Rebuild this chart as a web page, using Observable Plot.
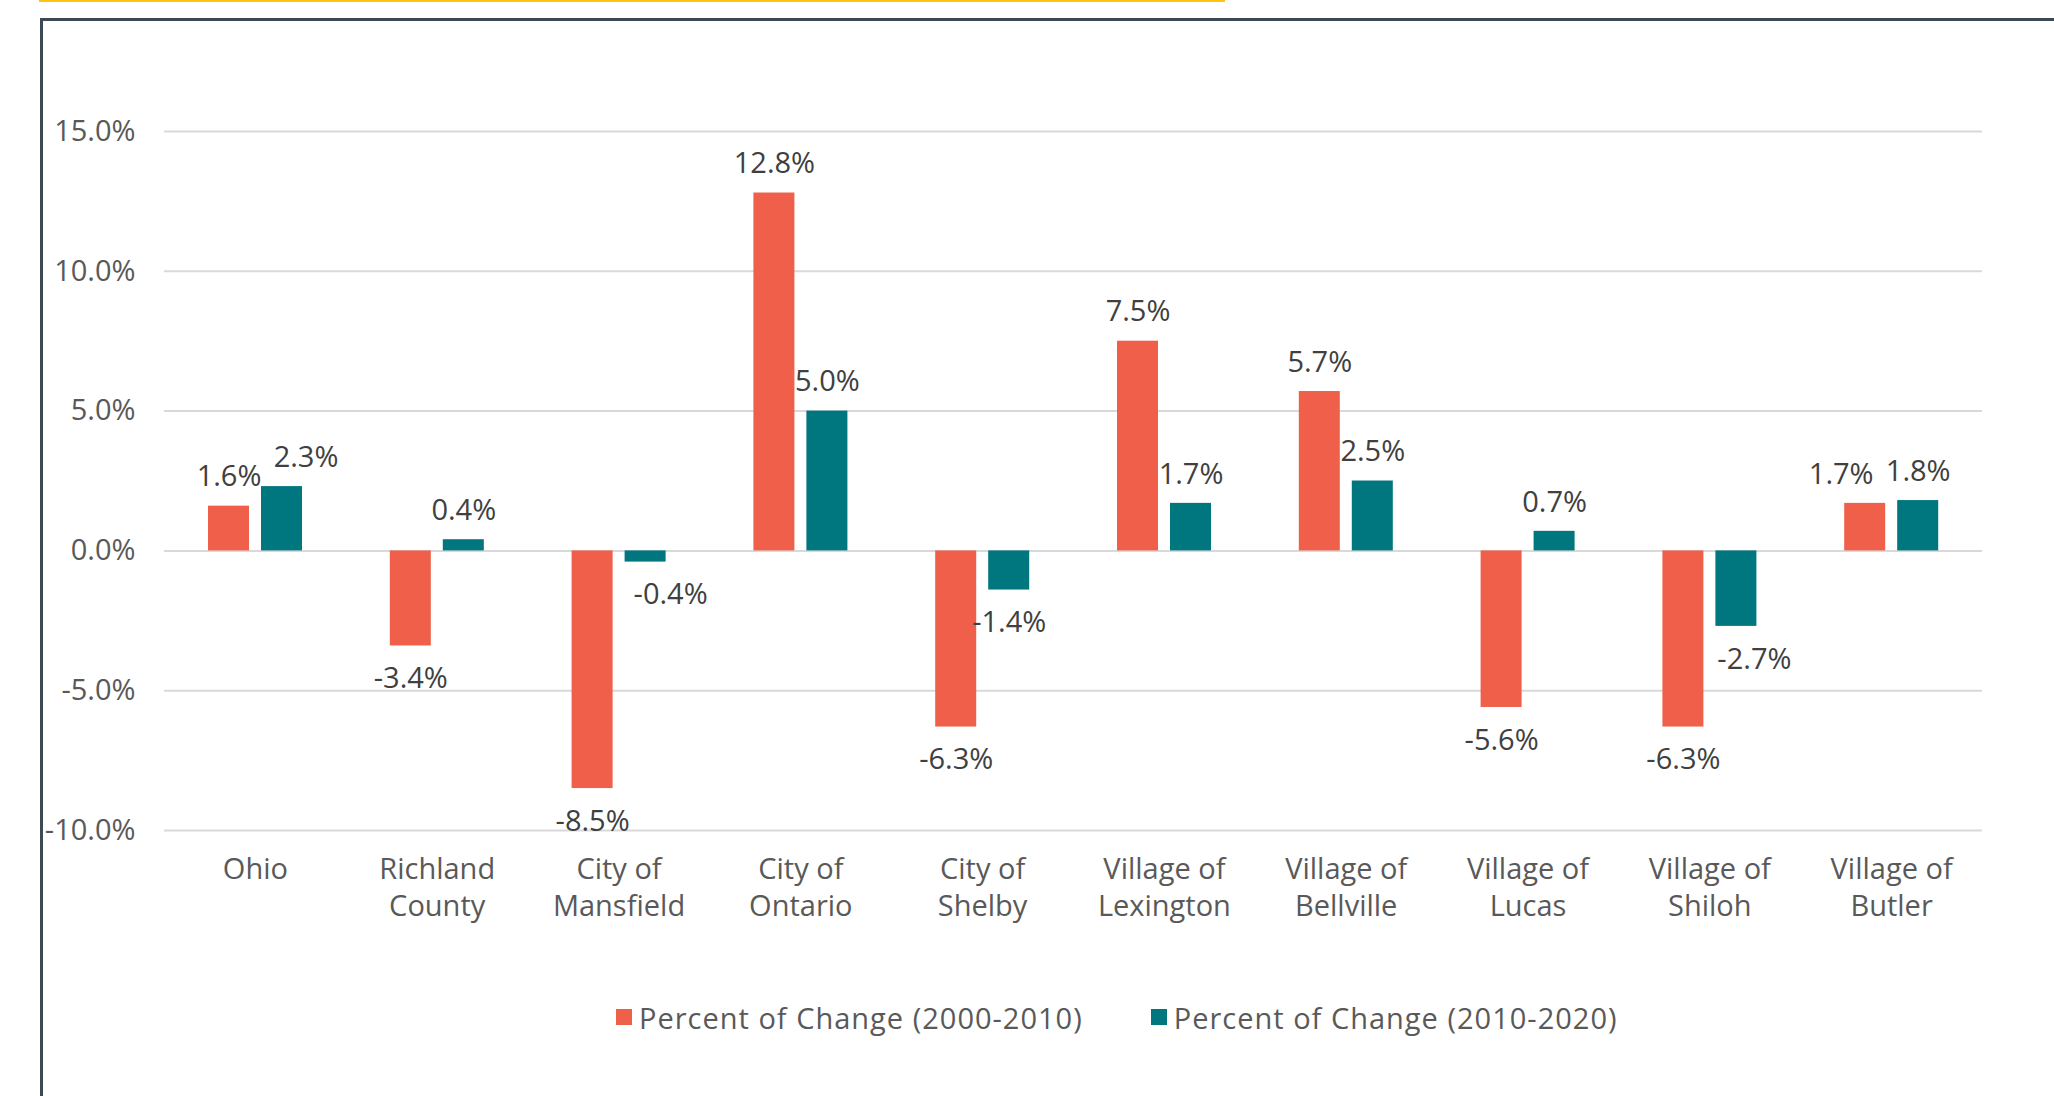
<!DOCTYPE html>
<html>
<head>
<meta charset="utf-8">
<script src="https://cdn.jsdelivr.net/npm/d3@7"></script>
<script src="https://cdn.jsdelivr.net/npm/@observablehq/plot@0.6"></script>
<style>
  html, body { margin: 0; padding: 0; background: #ffffff; }
  body { width: 2054px; height: 1096px; overflow: hidden; position: relative; font-family: "Open Sans", Lato, sans-serif; }
  #topline { position: absolute; left: 39px; top: 0; width: 1186px; height: 2px; background: #FFC20E; }
  #frame { position: absolute; left: 40px; top: 18px; width: 2100px; height: 1200px; border-top: 3px solid #3D4A55; border-left: 3px solid #3D4A55; pointer-events: none; z-index: 2; }
  #chart { position: absolute; left: 0; top: 0; }
  #legend { position: absolute; left: 616px; top: 996px; display: flex; align-items: center; font-size: 29px; letter-spacing: 1px; color: #595959; height: 42px; }
  .item { display: flex; align-items: center; }
  .swatch { width: 16px; height: 16px; margin-right: 7px; }
</style>
</head>
<body>
<div id="topline"></div>
<div id="chart"></div>
<div id="legend"></div>
<div id="frame"></div>
<script>
const categories = ["Ohio", "Richland County", "City of Mansfield", "City of Ontario", "City of Shelby", "Village of Lexington", "Village of Bellville", "Village of Lucas", "Village of Shiloh", "Village of Butler"];
const change2000_2010 = [1.6, -3.4, -8.5, 12.8, -6.3, 7.5, 5.7, -5.6, -6.3, 1.7];
const change2010_2020 = [2.3, 0.4, -0.4, 5.0, -1.4, 1.7, 2.5, 0.7, -2.7, 1.8];
const seriesNames = ["Percent of Change (2000-2010)", "Percent of Change (2010-2020)"];
const seriesColors = ["#EF5F4A", "#00767F"];
const yTicks = [-10, -5, 0, 5, 10, 15];

// label placement tweaks (layout only, in px), as in the original chart
const labelNudge = [
  {"Village of Butler": -24},
  {"Ohio": 24, "City of Mansfield": 25, "Village of Shiloh": 18}
];

const W = 2054, H = 990;
const mL = 164, mR = 72, mT = 131, mB = 160;
const band = (W - mL - mR) / categories.length;
const outer = 44, barW = 41, gap = 12;
const insets = [
  {insetLeft: outer, insetRight: band - outer - barW},
  {insetLeft: outer + barW + gap, insetRight: band - outer - 2 * barW - gap}
];
const centers = [outer + barW / 2 - band / 2, outer + barW + gap + barW / 2 - band / 2];

const fmt = v => v.toFixed(1) + "%";
const wrap = s => { const k = s.lastIndexOf(" "); return k < 0 ? s : s.slice(0, k) + "\n" + s.slice(k + 1); };
const FONT = "'Open Sans', Lato, sans-serif";
const FS = 29;

const series = [change2000_2010, change2010_2020];
const marks = [Plot.ruleY(yTicks, {stroke: "#D9D9D9", strokeWidth: 2})];
series.forEach((vals, s) => {
  const rows = categories.map((c, i) => ({cat: c, value: vals[i]}));
  marks.push(Plot.barY(rows, {x: "cat", y: "value", fill: seriesColors[s], ...insets[s]}));
  const groups = d3.groups(rows, d => (d.value >= 0 ? "p" : "n") + "|" + (labelNudge[s][d.cat] || 0));
  for (const [key, g] of groups) {
    const [sign, nudge] = key.split("|");
    marks.push(Plot.text(g, {
      x: "cat", y: "value", text: d => fmt(d.value),
      dx: centers[s] + (+nudge), dy: sign === "p" ? -29 : 33,
      fontSize: FS, fill: "#404040"
    }));
  }
});
marks.push(Plot.text(categories, {x: d => d, text: d => wrap(d), frameAnchor: "bottom", lineAnchor: "top", dy: 22, lineHeight: 1.28, fontSize: FS, fill: "#595959"}));

const chart = Plot.plot({
  width: W,
  height: H,
  marginLeft: mL,
  marginRight: mR,
  marginTop: mT,
  marginBottom: mB,
  style: {fontSize: FS + "px", fontFamily: FONT, color: "#595959", background: "transparent", overflow: "visible"},
  x: {domain: categories, padding: 0, round: false, axis: null},
  y: {domain: [-10, 15], ticks: yTicks, tickFormat: fmt, tickSize: 0, tickPadding: 29, label: null},
  marks
});
document.getElementById("chart").appendChild(chart);

const legend = document.getElementById("legend");
seriesNames.forEach((name, i) => {
  const item = document.createElement("div");
  item.className = "item";
  item.style.marginRight = i === 0 ? "68px" : "0";
  const sw = document.createElement("div");
  sw.className = "swatch";
  sw.style.background = seriesColors[i];
  const t = document.createElement("span");
  t.textContent = name;
  item.appendChild(sw);
  item.appendChild(t);
  legend.appendChild(item);
});
</script>
</body>
</html>
